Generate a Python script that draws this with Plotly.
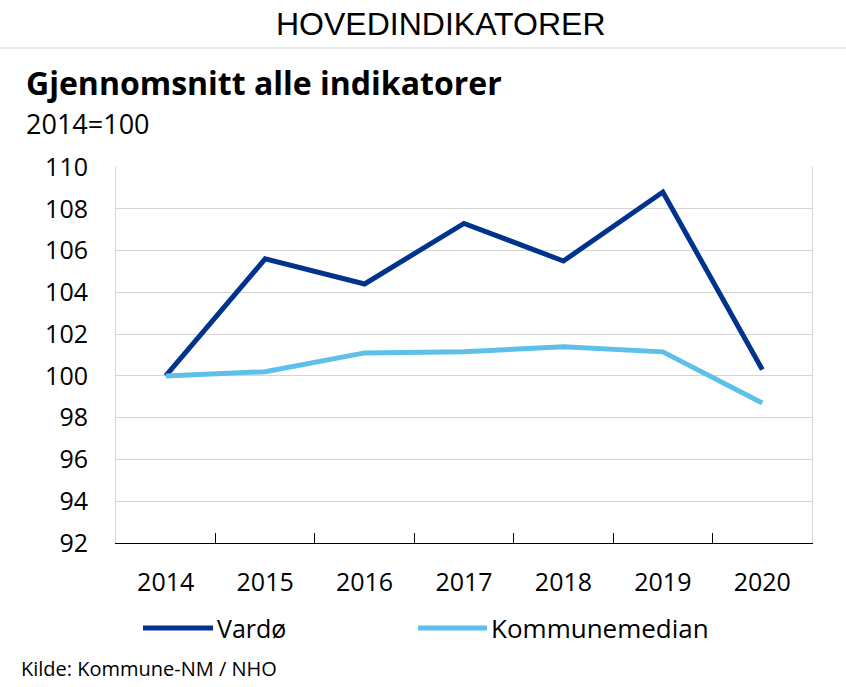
import plotly.graph_objects as go

years = ["2014", "2015", "2016", "2017", "2018", "2019", "2020"]
vardo = [100.0, 105.6, 104.4, 107.3, 105.5, 108.8, 100.3]
median = [100.0, 100.2, 101.1, 101.15, 101.4, 101.15, 98.7]
series_names = ["Vardø", "Kommunemedian"]
y_ticks = [92, 94, 96, 98, 100, 102, 104, 106, 108, 110]

C_VARDO = "#00338D"
C_MED = "#5CC0E8"
FONT = "Open Sans, Noto Sans, sans-serif"

W, H = 846, 687
L, R, T, B = 116, 34, 167, 144
PW, PH = W - L - R, H - T - B


def px(xp):
    return (xp - L) / PW


def py(yp):
    return (H - B - yp) / PH


fig = go.Figure()
fig.add_trace(go.Scatter(x=years, y=vardo, mode="lines", name=series_names[0],
                         line=dict(color=C_VARDO, width=5), showlegend=False))
fig.add_trace(go.Scatter(x=years, y=median, mode="lines", name=series_names[1],
                         line=dict(color=C_MED, width=5), showlegend=False))

shapes = [
    dict(type="line", xref="paper", yref="paper", x0=px(0), x1=px(W), y0=py(48), y1=py(48),
         line=dict(color="#d0d0d0", width=1)),
    dict(type="line", xref="paper", yref="paper", x0=px(143), x1=px(213), y0=py(628), y1=py(628),
         line=dict(color=C_VARDO, width=5)),
    dict(type="line", xref="paper", yref="paper", x0=px(418), x1=px(487), y0=py(628), y1=py(628),
         line=dict(color=C_MED, width=5)),
]

annotations = [
    dict(text="HOVEDINDIKATORER", x=px(441), y=py(24), xref="paper", yref="paper",
         xanchor="center", yanchor="middle", showarrow=False,
         font=dict(family="Liberation Sans Narrow, Liberation Sans, Arial, sans-serif", size=32, color="black")),
    dict(text="<b>Gjennomsnitt alle indikatorer</b>", x=px(24), y=py(82), xref="paper", yref="paper",
         xanchor="left", yanchor="middle", showarrow=False,
         font=dict(family=FONT, size=32, color="black")),
    dict(text="2014=100", x=px(24), y=py(123), xref="paper", yref="paper",
         xanchor="left", yanchor="middle", showarrow=False,
         font=dict(family=FONT, size=27, color="black")),
    dict(text=series_names[0], x=px(215), y=py(628), xref="paper", yref="paper",
         xanchor="left", yanchor="middle", showarrow=False,
         font=dict(family=FONT, size=25, color="black")),
    dict(text=series_names[1], x=px(489), y=py(628), xref="paper", yref="paper",
         xanchor="left", yanchor="middle", showarrow=False,
         font=dict(family=FONT, size=26, color="black")),
    dict(text="Kilde: Kommune-NM / NHO", x=px(19), y=py(668), xref="paper", yref="paper",
         xanchor="left", yanchor="middle", showarrow=False,
         font=dict(family=FONT, size=20, color="black")),
]

fig.update_layout(
    width=W, height=H,
    margin=dict(l=L, r=R, t=T, b=B),
    paper_bgcolor="white", plot_bgcolor="white",
    font=dict(family=FONT, color="black"),
    shapes=shapes, annotations=annotations,
    showlegend=False,
)
fig.update_xaxes(
    type="category", range=[-0.5, 6.5], tickson="boundaries",
    ticks="inside", ticklen=10, tickwidth=1, tickcolor="black",
    showline=True, linecolor="black", linewidth=1,
    showgrid=False, tickfont=dict(family=FONT, size=25, color="black"),
    ticklabelstandoff=17,
)
fig.update_yaxes(
    range=[92, 110], tickvals=y_ticks,
    showgrid=True, gridcolor="#d4d4d4", gridwidth=1,
    showline=True, linecolor="#d4d4d4", linewidth=1, mirror=True,
    zeroline=False, ticks="",
    tickfont=dict(family=FONT, size=25, color="black"),
    ticklabelstandoff=22,
)

fig.write_html("out.html", config={"displayModeBar": False},
               post_script="document.body.style.margin='0';document.body.style.overflow='hidden';")
